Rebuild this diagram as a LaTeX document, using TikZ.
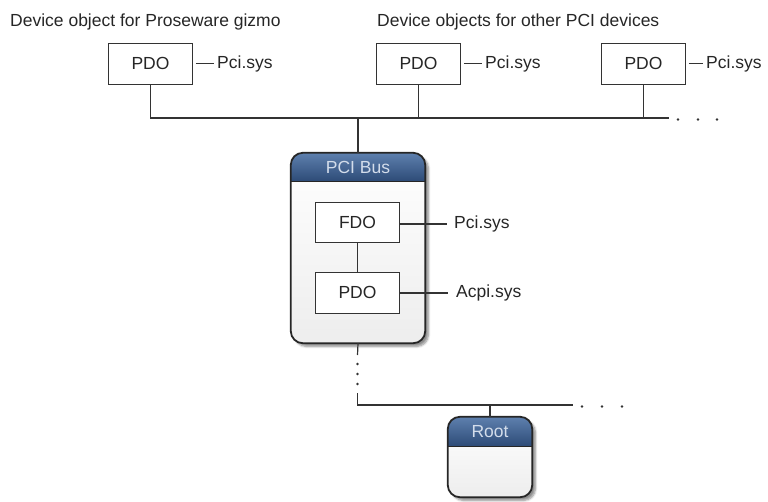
\documentclass[tikz,border=0pt]{standalone}
\usepackage{fontspec}
\setmainfont{Liberation Sans}
\usetikzlibrary{shadows.blur}
\definecolor{wire}{HTML}{333333}
\definecolor{hdrtop}{HTML}{5E80AE}
\definecolor{hdrbot}{HTML}{2C4A76}
\definecolor{hdrtext}{HTML}{D3DDEB}
\tikzset{
  every node/.style={font=\fontsize{17.5}{21}\selectfont, text=black!85},
  objbox/.style={draw=black!80, line width=0.9pt, fill=white, minimum width=84pt, minimum height=41pt, inner sep=0pt},
  drvlabel/.style={anchor=west, inner sep=0pt},
  wireline/.style={draw=wire, line width=1.2pt},
  devstack/.style={draw=none, rounded corners=12pt, inner sep=0pt,
    blur shadow={shadow xshift=3.5pt, shadow yshift=-3.5pt, shadow blur steps=6, shadow opacity=45}},
  hdrlabel/.style={text=hdrtext, inner sep=0pt},
  dot/.style={fill=wire, draw=none}
}
\newcommand{\stackbox}[4]{%
  % #1 node name, #2 header height, #3 title, #4 unused
  \begin{scope}
    \clip[rounded corners=12pt] (#1.south west) rectangle (#1.north east);
    \shade[top color=white, bottom color=black!7] (#1.south west) rectangle (#1.north east);
    \shade[top color=hdrtop, bottom color=hdrbot] (#1.north west) rectangle ([yshift=-#2]#1.north east);
  \end{scope}
  \draw[black!85, line width=1pt] ([yshift=-#2]#1.north west) -- ([yshift=-#2]#1.north east);
  \draw[black!85, line width=1.8pt, rounded corners=12pt] (#1.south west) rectangle (#1.north east);
  \node[hdrlabel] (#1-title) at ([yshift=-#2/2]#1.north) {#3};
}
\begin{document}
\begin{tikzpicture}[x=1pt, y=-1pt]
\useasboundingbox (0,0) rectangle (768,501);

% captions
\node[anchor=base west, inner sep=0pt] (cap1) at (10,26.5) {Device object for Proseware gizmo};
\node[anchor=base west, inner sep=0pt] (cap2) at (377,26.5) {Device objects for other PCI devices};

% device objects for child devices
\node[objbox] (p1) at (150.5,63.5) {PDO};
\node[objbox] (p2) at (418.5,63.5) {PDO};
\node[objbox] (p3) at (643.5,63.5) {PDO};
\node[drvlabel] (l1) at (217,63.5) {Pci.sys};
\node[drvlabel] (l2) at (485,63.5) {Pci.sys};
\node[drvlabel] (l3) at (706,63.5) {Pci.sys};
\draw[wireline] ([xshift=3pt]p1.east) -- ([xshift=-3pt]l1.west);
\draw[wireline] ([xshift=3pt]p2.east) -- ([xshift=-3pt]l2.west);
\draw[wireline] ([xshift=3pt]p3.east) -- ([xshift=-3pt]l3.west);

% PCI bus device stack
\node[devstack, minimum width=134pt, minimum height=190pt] (bus) at (358,248) {};
\stackbox{bus}{29pt}{PCI Bus}{}
\node[objbox, minimum height=40pt] (fdo) at (357.5,222) {FDO};
\node[objbox] (bpdo) at (357.5,292.5) {PDO};
\node[drvlabel] (lf) at (454,224) {Pci.sys};
\node[drvlabel] (lp) at (456,293) {Acpi.sys};
\draw[wireline] (fdo.east |- lf) -- ([xshift=-7pt]lf.west);
\draw[wireline] (bpdo.east |- lp) -- ([xshift=-8pt]lp.west);
\draw[wireline] (fdo.south) -- (bpdo.north);

% child bus line
\coordinate (busR) at (669,118);
\draw[wireline] (p1.south) |- (busR);
\draw[wireline] (p2.south) -- (p2.south |- busR);
\draw[wireline] (p3.south) -- (p3.south |- busR);
\draw[wireline] (bus.north) -- (bus.north |- busR);
\foreach \x in {678,698,717} \fill[dot] (\x,119.5) circle (1.3pt);

% root device stack
\node[devstack, minimum width=84pt, minimum height=80pt] (root) at (490,457) {};
\stackbox{root}{30pt}{Root}{}

% path down to the root
\coordinate (gapTop) at (357.5,355);
\coordinate (gapBot) at (357.5,393);
\coordinate (rootR) at (573,405);
\draw[wireline] (bus.south) -- (gapTop);
\foreach \y in {364,374,384} \fill[dot] (357.5,\y) circle (1.3pt);
\draw[wireline] (gapBot) |- (rootR);
\draw[wireline] (root.north) -- (root.north |- rootR);
\foreach \x in {582,602,622} \fill[dot] (\x,406.5) circle (1.3pt);
\end{tikzpicture}
\end{document}
